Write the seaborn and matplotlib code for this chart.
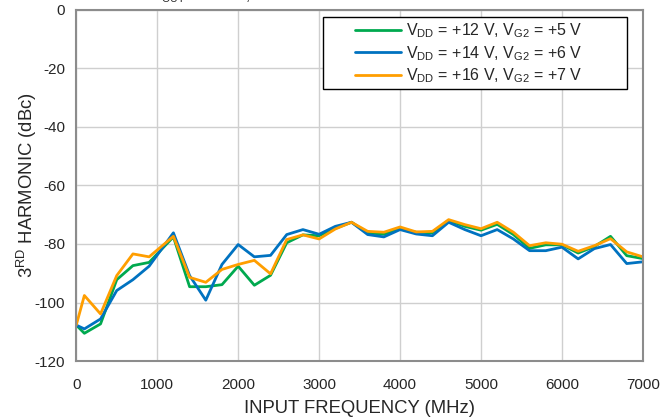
import numpy as np
import pandas as pd
import matplotlib
matplotlib.use("Agg")
import matplotlib.pyplot as plt
from matplotlib.patches import Rectangle
import seaborn as sns

# Input frequency points (MHz)
freq = [0, 100, 300, 500, 700, 900, 1200, 1400, 1600, 1800, 2000, 2200, 2400,
        2600, 2800, 3000, 3200, 3400, 3600, 3800, 4000, 4200, 4400, 4600, 4800,
        5000, 5200, 5400, 5600, 5800, 6000, 6200, 6400, 6600, 6800, 7000]

# 3rd harmonic (dBc) for each bias condition
h3_12v = [-107.7, -110.5, -107.3, -92.2, -87.4, -86.3, -77.6, -94.6, -94.6, -93.9,
          -87.6, -94.1, -90.7, -79.6, -76.9, -77.2, -74.7, -72.6, -76.2, -76.7,
          -74.9, -76.0, -76.2, -72.0, -74.0, -75.3, -73.3, -76.8, -81.5, -80.3,
          -80.3, -83.1, -80.9, -77.4, -84.0, -85.0]
h3_14v = [-107.7, -109.0, -105.6, -95.9, -92.2, -87.6, -76.2, -90.8, -99.2, -87.0,
          -80.2, -84.4, -83.9, -76.8, -75.1, -76.7, -74.0, -72.6, -76.8, -77.6,
          -75.1, -76.6, -77.2, -72.6, -75.1, -77.2, -75.1, -78.3, -82.3, -82.3,
          -81.1, -85.1, -81.6, -80.2, -86.7, -86.1]
h3_16v = [-107.7, -97.6, -103.9, -90.8, -83.4, -84.4, -77.4, -91.4, -93.1, -88.7,
          -87.0, -85.6, -90.2, -78.5, -76.9, -78.3, -74.9, -72.6, -75.7, -76.0,
          -74.2, -75.9, -75.7, -71.7, -73.4, -74.8, -72.6, -76.0, -80.6, -79.6,
          -80.1, -82.5, -80.6, -78.2, -82.7, -84.4]

labels = [r"V$_{\mathrm{DD}}$ = +12 V, V$_{\mathrm{G2}}$ = +5 V",
          r"V$_{\mathrm{DD}}$ = +14 V, V$_{\mathrm{G2}}$ = +6 V",
          r"V$_{\mathrm{DD}}$ = +16 V, V$_{\mathrm{G2}}$ = +7 V"]
colors = ["#00A94F", "#0072C0", "#FF9E00"]

df = pd.concat([
    pd.DataFrame({"freq": freq, "h3": vals, "cond": lab})
    for vals, lab in zip([h3_12v, h3_14v, h3_16v], labels)
])

sns.set_style("white")
plt.rcParams["font.family"] = ["Liberation Sans", "DejaVu Sans"]
plt.rcParams["mathtext.fontset"] = "custom"
plt.rcParams["mathtext.rm"] = "Liberation Sans"
plt.rcParams["axes.unicode_minus"] = False

fig, ax = plt.subplots(figsize=(6.69, 4.17), dpi=100)
fig.subplots_adjust(left=0.114, right=0.961, top=0.977, bottom=0.134)

sns.lineplot(data=df, x="freq", y="h3", hue="cond", palette=colors,
             linewidth=2, ax=ax, sort=False)

ax.set_xlim(0, 7000)
ax.set_ylim(-120, 0)
ax.set_xticks(np.arange(0, 7001, 1000))
ax.set_yticks(np.arange(-120, 1, 20))
ax.grid(True, color="#CFCFCF", linewidth=1)
ax.set_axisbelow(True)
for sp in ax.spines.values():
    sp.set_color("#8C8C8C")
    sp.set_linewidth(1.5)
ax.tick_params(axis="x", labelsize=11, length=0, pad=12)
ax.tick_params(axis="y", labelsize=11, length=0, pad=8)
ax.set_xlabel("INPUT FREQUENCY (MHz)", fontsize=13.3, labelpad=6)
ax.set_ylabel(r"3$^{\mathrm{RD}}$ HARMONIC (dBc)", fontsize=13.3, labelpad=-3)

# legend frame is wider than its content, so draw it as a separate box
ax.add_patch(Rectangle((0.4356, 0.7747), 0.536, 0.2045, transform=ax.transAxes,
                       facecolor="white", edgecolor="black", linewidth=1,
                       zorder=4))
leg = ax.legend(loc="upper left", bbox_to_anchor=(0.483, 0.979), fontsize=11.5,
                frameon=False, handlelength=2.9, handletextpad=0.3,
                borderpad=0.3, labelspacing=0.22, borderaxespad=0)
leg.set_zorder(5)

# title line that is clipped at the top edge in the reference
fig.text(0.225, 1.0, r"P$_{\mathrm{OUT}}$ = 0 dBm, T = 25°C", fontsize=11,
         va="baseline")

fig.savefig("out.png", dpi=100)
